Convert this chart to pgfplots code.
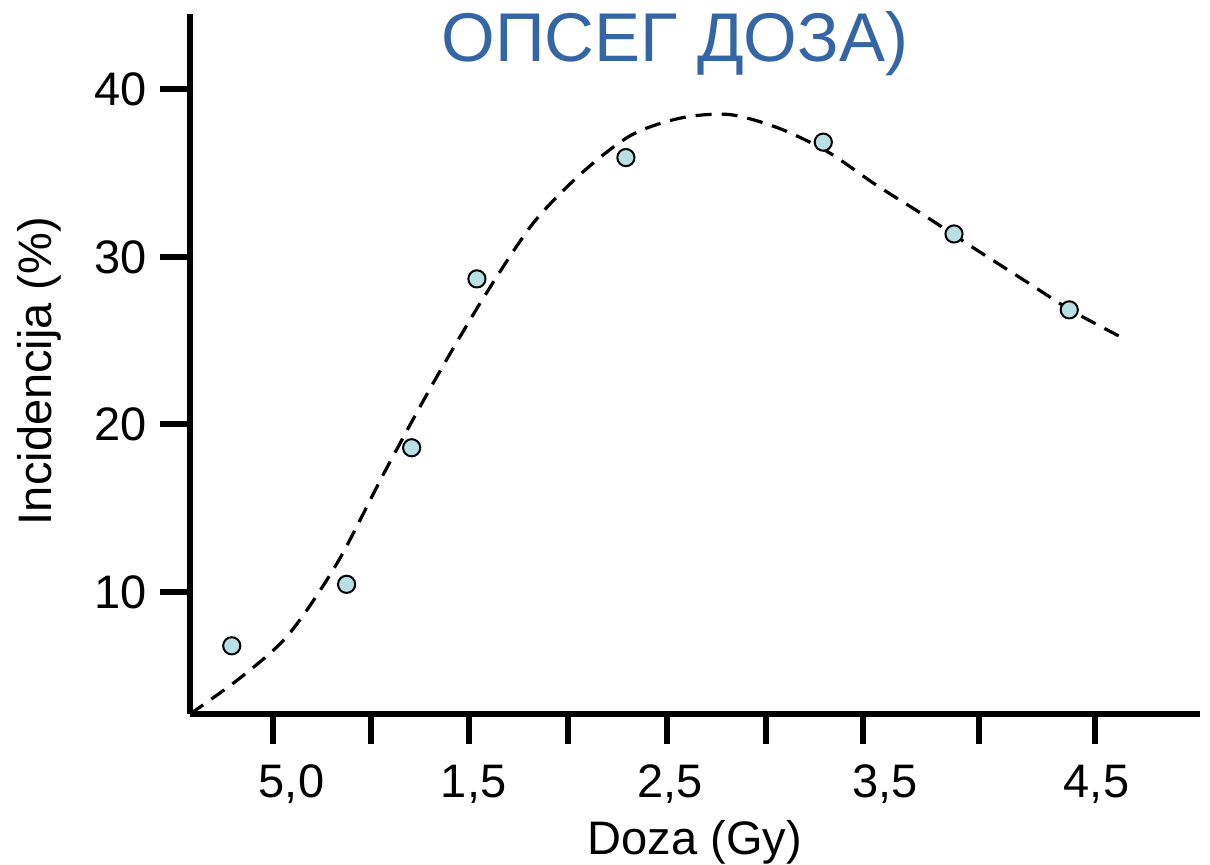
\documentclass[border=0pt]{standalone}
\usepackage{fontspec}
\setmainfont{Liberation Sans}
\usepackage{pgfplots}
\pgfplotsset{compat=1.18}
\definecolor{titleblue}{RGB}{52,101,164}
\definecolor{dotfill}{RGB}{184,224,228}

\begin{document}
\begin{tikzpicture}
\begin{axis}[
    scale only axis,
    width=505pt, height=350pt,
    xmin=0, xmax=5.153,
    ymin=2.72, ymax=44.5,
    axis x line*=bottom, axis y line*=left,
    axis line style={line width=2.8pt, -},
    tick align=outside,
    major tick length=15pt,
    major tick style={line width=3pt, black},
    xtick={0.422,0.923,1.425,1.930,2.435,2.939,3.435,4.027,4.617},
    xticklabels={},
    extra x ticks={0.518,1.447,2.449,3.546,4.625},
    extra x tick labels={{5,0},{1,5},{2,5},{3,5},{4,5}},
    extra x tick style={major tick length=0pt, major tick style={draw=none},
        xticklabel style={yshift=-22pt}},
    ytick={10,20,30,40},
    /pgf/number format/assume math mode=true,
    ticklabel style={font=\fontsize{23.5}{28}\selectfont},
    yticklabel style={xshift=-3pt},
    xlabel={Doza (Gy)},
    ylabel={Incidencija (\%)},
    label style={font=\fontsize{23.5}{28}\selectfont},
    xlabel style={at={(axis description cs:0.5,-0.2014)}, anchor=base},
    ylabel style={at={(axis description cs:-0.149,0.49)}, anchor=center},
    clip=false,
]
% dashed fit curve
\addplot[black, line width=1.6pt, dash pattern=on 8pt off 5pt, smooth] coordinates {
    (0.00,2.72) (0.25,4.82) (0.50,7.42) (0.75,11.71) (1.00,17.32)
    (1.25,22.66) (1.50,27.61) (1.75,32.00) (2.00,35.02) (2.25,37.26)
    (2.50,38.28) (2.75,38.50) (3.00,37.70) (3.25,36.30) (3.50,34.30)
    (3.75,32.45) (4.00,30.52) (4.25,28.65) (4.50,26.78) (4.779,25.04)
};
% measured points
\addplot[only marks, mark=*, mark size=4.3pt,
    mark options={fill=dotfill, draw=black, line width=1pt}] coordinates {
    (0.213,6.79) (0.799,10.46) (1.131,18.61) (1.464,28.69)
    (2.224,35.93) (3.231,36.85) (3.898,31.37) (4.486,26.84)
};
\node[anchor=base, text=titleblue, font=\fontsize{34.5}{40}\selectfont, inner sep=0pt]
    at (axis cs:2.474,41.64) {ОПСЕГ ДОЗА)};
\end{axis}
\pgfresetboundingbox
\path[use as bounding box] (current axis.south west) ++(-95pt,-75.5pt) rectangle ++(605pt,432.5pt);
\end{tikzpicture}
\end{document}
